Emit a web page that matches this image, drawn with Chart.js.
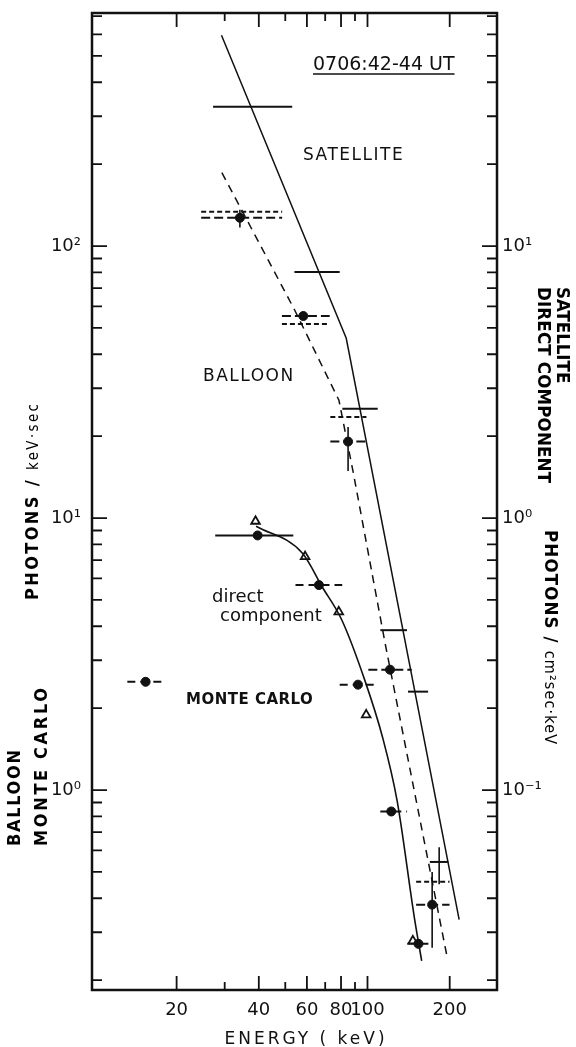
<!DOCTYPE html>
<html>
<head>
<meta charset="utf-8">
<script src="https://cdn.jsdelivr.net/npm/chart.js@4.4.1/dist/chart.umd.min.js"></script>
<style>
  html, body { margin: 0; padding: 0; background: #fff; }
  #wrap { width: 576px; height: 1047px; }
</style>
</head>
<body>
<div id="wrap"><canvas id="spectrum" width="576" height="1047"></canvas></div>
<script>
// axis ranges (keV, photons/keV.sec); right axis is left / 10
const xMin = 9.8, xMax = 298;
const yMin = 0.184, yMax = 719;

const xTickValues = [20, 30, 40, 50, 60, 70, 80, 90, 100, 200];
const xTickLabels = ['20', '', '40', '', '60', '', '80', '', '100', '200'];
const xLongTicks = [20, 40, 60, 80, 100, 200];

const yMajor = [1, 10, 100];
const yMajorLabels = ['10\u2070', '10\u00b9', '10\u00b2'];
const y2Major = [0.1, 1, 10];
const y2MajorLabels = ['10\u207b\u00b9', '10\u2070', '10\u00b9'];
const yMinor = [0.2, 0.3, 0.4, 0.5, 0.6, 0.7, 0.8, 0.9,
  2, 3, 4, 5, 6, 7, 8, 9, 20, 30, 40, 50, 60, 70, 80, 90,
  200, 300, 400, 500, 600, 700];

// satellite spectrum (solid line) and its data bars
const satLineE = [29.2, 83.6, 216.6];
const satLineF = [596, 45.8, 0.334];
const satBarLo = [27.2, 54.0, 80.9, 111.4, 140.7, 169.2];
const satBarHi = [53.0, 79.1, 109.0, 139.5, 166.7, 197.7];
const satBarF = [325, 80.2, 25.2, 3.87, 2.30, 0.544];
const satErrE = [183];
const satErrLo = [0.45];
const satErrHi = [0.616];

// balloon spectrum (dashed line) and points
const balLineE = [29.3, 54.1, 78.6, 88.8, 116.1, 194.8];
const balLineF = [186, 58.2, 27.1, 14.6, 3.45, 0.249];
const balE = [34.1, 58.2, 84.9, 120.9, 172.5];
const balF = [127, 55.3, 19.1, 2.77, 0.379];
const balLo = [24.6, 48.6, 73.1, 100.7, 150.7];
const balHi = [48.7, 72.7, 99.1, 145.2, 199.7];
const balF2 = [133.6, 51.7, 23.5, null, 0.46];
const balErrE = [34.1, 84.9, 172.5];
const balErrLo = [117, 14.9, 0.263];
const balErrHi = [136, 21.6, 0.50];

// direct component curve, monte carlo points, triangles
const dirLineE = [39.1, 57.8, 68.2, 80.6, 97.8, 113.6, 128.4, 148.5, 157.9];
const dirLineF = [9.33, 7.42, 5.59, 4.21, 2.53, 1.56, 0.912, 0.339, 0.2355];
const mcE = [39.6, 66.4, 92.3, 122.2, 153.7, 15.4];
const mcF = [8.63, 5.67, 2.44, 0.834, 0.272, 2.5];
const mcLo = [27.7, 54.5, 79.1, 111.4, 140, 13.2];
const mcHi = [53.5, 80.8, 108.7, 139.6, 168, 18];
const triE = [38.9, 59.1, 78.5, 98.9, 146.6];
const triF = [9.73, 7.21, 4.52, 1.89, 0.279];

const ink = '#111';
const cond = '"DejaVu Sans Condensed", "Liberation Sans Narrow", "DejaVu Sans"';
const pairs = (xs, ys) => xs.map((x, i) => ({ x: x, y: ys[i] }));

function hLine(ctx, xs, ys, lo, hi, v, dash, w) {
    ctx.save();
    ctx.setLineDash(dash);
    ctx.lineWidth = w;
    ctx.strokeStyle = ink;
    ctx.beginPath();
    ctx.moveTo(xs.getPixelForValue(lo), ys.getPixelForValue(v));
    ctx.lineTo(xs.getPixelForValue(hi), ys.getPixelForValue(v));
    ctx.stroke();
    ctx.restore();
}

function vLine(ctx, xs, ys, e, lo, hi, w) {
    ctx.save();
    ctx.lineWidth = w;
    ctx.strokeStyle = ink;
    ctx.beginPath();
    ctx.moveTo(xs.getPixelForValue(e), ys.getPixelForValue(lo));
    ctx.lineTo(xs.getPixelForValue(e), ys.getPixelForValue(hi));
    ctx.stroke();
    ctx.restore();
}

// rotated title, stretched with letter spacing to a given length
function rotText(ctx, parts, x, y, angle, target) {
    ctx.save();
    ctx.translate(x, y);
    ctx.rotate(angle);
    ctx.textBaseline = 'alphabetic';
    ctx.textAlign = 'left';
    ctx.letterSpacing = '0px';
    let natural = 0, count = 0;
    parts.forEach(p => {
        ctx.font = p.font;
        natural += ctx.measureText(p.text).width;
        count += p.text.length;
    });
    const gap = Math.max(0, (target - natural) / (count - 1));
    let off = 0;
    parts.forEach(p => {
        ctx.font = p.font;
        ctx.letterSpacing = '0px';
        const w = ctx.measureText(p.text).width;
        ctx.letterSpacing = gap + 'px';
        ctx.fillText(p.text, off, 0);
        off += w + gap * p.text.length;
    });
    ctx.restore();
}

const errorBars = {
    id: 'errorBars',
    beforeDatasetsDraw(chart) {
        const ctx = chart.ctx, xs = chart.scales.x, ys = chart.scales.y;
        satBarF.forEach((v, i) => hLine(ctx, xs, ys, satBarLo[i], satBarHi[i], v, [], 2));
        satErrE.forEach((e, i) => vLine(ctx, xs, ys, e, satErrLo[i], satErrHi[i], 1.6));
        balF.forEach((v, i) => hLine(ctx, xs, ys, balLo[i], balHi[i], v, [9, 4], 2));
        balF2.forEach((v, i) => { if (v) hLine(ctx, xs, ys, balLo[i], balHi[i], v, [5, 3], 2); });
        balErrE.forEach((e, i) => vLine(ctx, xs, ys, e, balErrLo[i], balErrHi[i], 1.6));
        mcF.forEach((v, i) => hLine(ctx, xs, ys, mcLo[i], mcHi[i], v, i === 0 ? [] : [8, 5], 2));
    },
    afterDraw(chart) {
        const ctx = chart.ctx, a = chart.chartArea;
        const xs = chart.scales.x, ys = chart.scales.y;
        ctx.save();
        ctx.strokeStyle = ink;
        ctx.fillStyle = ink;
        // frame
        ctx.lineWidth = 2.5;
        ctx.strokeRect(a.left, a.top, a.right - a.left, a.bottom - a.top);
        // inward ticks
        ctx.lineWidth = 1.8;
        ctx.beginPath();
        yMajor.concat(yMinor).forEach(v => {
            const py = ys.getPixelForValue(v);
            const len = yMajor.includes(v) ? 15 : 10;
            ctx.moveTo(a.left, py); ctx.lineTo(a.left + len, py);
            ctx.moveTo(a.right, py); ctx.lineTo(a.right - len, py);
        });
        xTickValues.forEach(v => {
            const px = xs.getPixelForValue(v);
            const len = xLongTicks.includes(v) ? 14 : 8;
            ctx.moveTo(px, a.bottom); ctx.lineTo(px, a.bottom - len);
            ctx.moveTo(px, a.top); ctx.lineTo(px, a.top + len);
        });
        ctx.stroke();

        // annotations
        ctx.textBaseline = 'alphabetic';
        ctx.textAlign = 'left';
        ctx.font = '19px "DejaVu Sans"';
        ctx.fillText('0706:42-44 UT', 313, 70);
        const w = ctx.measureText('0706:42-44 UT').width;
        ctx.lineWidth = 1.5;
        ctx.beginPath(); ctx.moveTo(313, 74); ctx.lineTo(313 + w, 74); ctx.stroke();

        ctx.font = '17px "DejaVu Sans"';
        ctx.letterSpacing = '1.5px';
        ctx.fillText('SATELLITE', 303, 160);
        ctx.fillText('BALLOON', 203, 381);
        ctx.letterSpacing = '0px';
        ctx.font = '18px "DejaVu Sans"';
        ctx.fillText('direct', 212, 602);
        ctx.fillText('component', 220, 621);
        ctx.font = 'bold 15px "DejaVu Sans"';
        ctx.letterSpacing = '0.5px';
        ctx.fillText('MONTE CARLO', 186, 704);

        // x title
        ctx.font = '17px "DejaVu Sans"';
        ctx.letterSpacing = '3px';
        ctx.textAlign = 'center';
        ctx.fillText('ENERGY ( keV)', 306, 1044);
        ctx.letterSpacing = '0px';
        ctx.restore();

        // left titles (read bottom to top)
        rotText(ctx, [{ text: 'PHOTONS / ', font: 'bold 18px ' + cond },
                      { text: 'keV\u00b7sec', font: '15px ' + cond }], 38, 600, -Math.PI / 2, 196);
        rotText(ctx, [{ text: 'BALLOON', font: 'bold 18px ' + cond }], 20, 846, -Math.PI / 2, 96);
        rotText(ctx, [{ text: 'MONTE CARLO', font: 'bold 18px ' + cond }], 47, 846, -Math.PI / 2, 158);

        // right titles (read top to bottom)
        rotText(ctx, [{ text: 'SATELLITE', font: 'bold 18.5px ' + cond }], 557, 287, Math.PI / 2, 94);
        rotText(ctx, [{ text: 'DIRECT COMPONENT', font: 'bold 18.5px ' + cond }], 538, 287, Math.PI / 2, 196);
        rotText(ctx, [{ text: 'PHOTONS / ', font: 'bold 18.5px ' + cond },
                      { text: 'cm\u00b2sec\u00b7keV', font: '16px ' + cond }], 545, 530, Math.PI / 2, 214);
    }
};

const tickFont = { family: '"DejaVu Sans"', size: 18 };

new Chart(document.getElementById('spectrum'), {
    type: 'scatter',
    data: {
        datasets: [
            { label: 'Satellite', data: pairs(satLineE, satLineF), showLine: true,
              borderColor: ink, borderWidth: 1.5, pointRadius: 0 },
            { label: 'Balloon', data: pairs(balLineE, balLineF), showLine: true,
              borderColor: ink, borderWidth: 1.5, borderDash: [8, 6], pointRadius: 0 },
            { label: 'Direct component', data: pairs(dirLineE, dirLineF), showLine: true,
              borderColor: ink, borderWidth: 1.6, pointRadius: 0, cubicInterpolationMode: 'monotone' },
            { label: 'Balloon points', data: pairs(balE, balF),
              pointRadius: 4.5, backgroundColor: ink, borderColor: ink },
            { label: 'Monte Carlo', data: pairs(mcE, mcF),
              pointRadius: 4.5, backgroundColor: ink, borderColor: ink },
            { label: 'Triangles', data: pairs(triE, triF), pointStyle: 'triangle',
              pointRadius: 5, backgroundColor: '#fff', borderColor: ink, borderWidth: 1.8 }
        ]
    },
    options: {
        responsive: false,
        animation: false,
        layout: { padding: { top: 13, left: 0, right: 0, bottom: 0 } },
        plugins: { legend: { display: false }, tooltip: { enabled: false } },
        scales: {
            x: {
                type: 'logarithmic', min: xMin, max: xMax,
                afterBuildTicks: s => { s.ticks = xTickValues.map(v => ({ value: v })); },
                afterFit: s => { s.height = 57; s.paddingLeft = 0; s.paddingRight = 0; },
                grid: { display: false, drawTicks: false },
                border: { display: false },
                ticks: { autoSkip: false, maxRotation: 0, padding: 10, color: ink, font: tickFont,
                         callback: (v, i) => xTickLabels[i] }
            },
            y: {
                type: 'logarithmic', min: yMin, max: yMax, position: 'left',
                afterBuildTicks: s => { s.ticks = yMajor.map(v => ({ value: v })); },
                afterFit: s => { s.width = 92; s.paddingTop = 0; s.paddingBottom = 0; },
                grid: { display: false, drawTicks: false },
                border: { display: false },
                ticks: { autoSkip: false, padding: 11, color: ink, font: tickFont,
                         callback: (v, i) => yMajorLabels[i] }
            },
            y2: {
                type: 'logarithmic', min: yMin / 10, max: yMax / 10, position: 'right',
                afterBuildTicks: s => { s.ticks = y2Major.map(v => ({ value: v })); },
                afterFit: s => { s.width = 79; s.paddingTop = 0; s.paddingBottom = 0; },
                grid: { display: false, drawTicks: false },
                border: { display: false },
                ticks: { autoSkip: false, padding: 5, color: ink, font: tickFont,
                         callback: (v, i) => y2MajorLabels[i] }
            }
        }
    },
    plugins: [errorBars]
});
</script>
</body>
</html>
